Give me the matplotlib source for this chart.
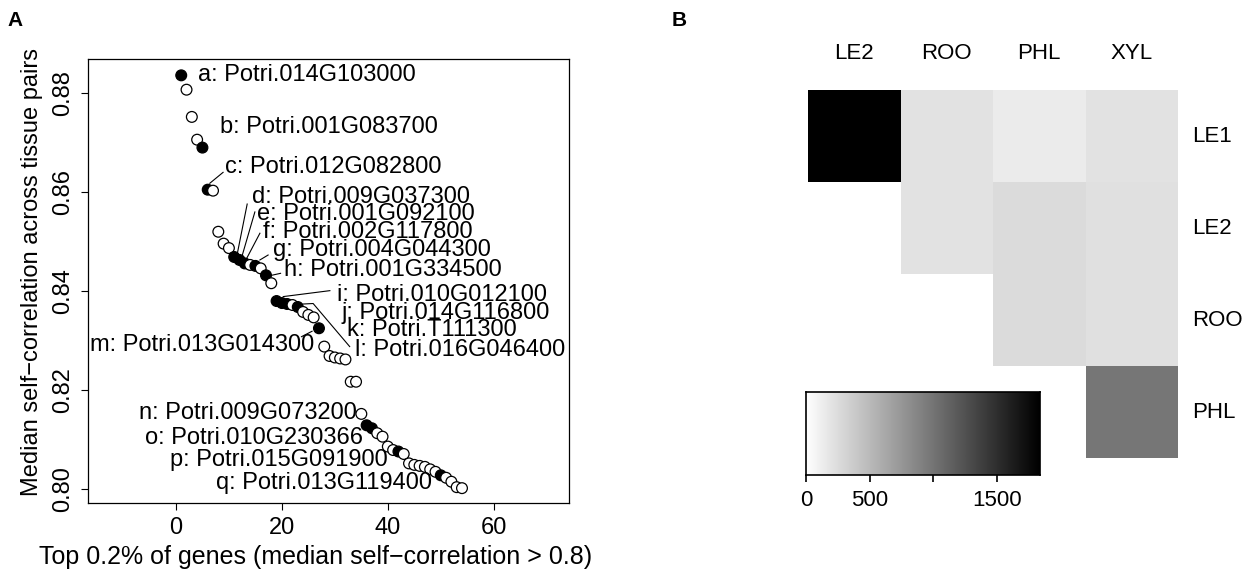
import numpy as np
import matplotlib
matplotlib.use("Agg")
import matplotlib.pyplot as plt
from matplotlib.colors import LinearSegmentedColormap

plt.rcParams['font.family'] = ['Liberation Sans', 'DejaVu Sans']

# ---------------- data: panel A ----------------
rank = list(range(1, 55))
self_corr = [0.8836, 0.8807, 0.8752, 0.8706, 0.8690, 0.8605, 0.8603, 0.8520, 0.8496, 0.8487,
             0.8469, 0.8463, 0.8456, 0.8453, 0.8451, 0.8446, 0.8432, 0.8416, 0.8380, 0.8376,
             0.8374, 0.8372, 0.8368, 0.8358, 0.8352, 0.8347, 0.8325, 0.8288, 0.8269, 0.8266,
             0.8264, 0.8262, 0.8217, 0.8217, 0.8152, 0.8129, 0.8123, 0.8113, 0.8106, 0.8086,
             0.8079, 0.8076, 0.8071, 0.8052, 0.8049, 0.8047, 0.8045, 0.8040, 0.8035, 0.8028,
             0.8023, 0.8015, 0.8004, 0.8002]
highlighted = [1, 5, 6, 11, 12, 13, 15, 17, 19, 20, 21, 23, 27, 36, 37, 42, 50]
gene_labels = ["a: Potri.014G103000", "b: Potri.001G083700", "c: Potri.012G082800",
               "d: Potri.009G037300", "e: Potri.001G092100", "f: Potri.002G117800",
               "g: Potri.004G044300", "h: Potri.001G334500", "i: Potri.010G012100",
               "j: Potri.014G116800", "k: Potri.T111300", "l: Potri.016G046400",
               "m: Potri.013G014300", "n: Potri.009G073200", "o: Potri.010G230366",
               "p: Potri.015G091900", "q: Potri.013G119400"]
# label anchor (data coords) and alignment
label_pos = [(4.15, 0.8836, 'left'), (8.3, 0.8731, 'left'), (9.25, 0.8651, 'left'),
             (14.3, 0.8590, 'left'), (15.3, 0.8556, 'left'), (16.4, 0.8519, 'left'),
             (18.3, 0.8483, 'left'), (20.4, 0.8442, 'left'), (30.4, 0.8392, 'left'),
             (31.3, 0.8356, 'left'), (32.3, 0.8321, 'left'), (33.8, 0.8281, 'left'),
             (26.2, 0.8291, 'right'), (34.2, 0.8154, 'right'), (35.3, 0.8103, 'right'),
             (40.0, 0.8059, 'right'), (48.3, 0.8012, 'right')]
leader_lines = [
    [(6.4, 0.8618), (8.9, 0.8640)],
    [(11.57, 0.8475), (13.45, 0.8576)],
    [(12.4, 0.8468), (14.9, 0.8560)],
    [(13.0, 0.8459), (15.85, 0.8517)],
    [(15.85, 0.8463), (17.4, 0.8473)],
    [(18.06, 0.8432), (19.75, 0.8436)],
    [(20.25, 0.8389), (29.06, 0.8401)],
    [(24.0, 0.8374), (25.9, 0.8375), (32.8, 0.8288)],
    [(23.7, 0.8308), (25.7, 0.8319)],
]
x_ticks = [0, 20, 40, 60]
y_ticks = [0.80, 0.82, 0.84, 0.86, 0.88]

# ---------------- data: panel B ----------------
col_tissues = ["LE2", "ROO", "PHL", "XYL"]
row_tissues = ["LE1", "LE2", "ROO", "PHL"]
overlap = [[1840, 210, 145, 210],
           [np.nan, 210, 265, 225],
           [np.nan, np.nan, 265, 225],
           [np.nan, np.nan, np.nan, 990]]
cbar_ticks = [0, 500, 1000, 1500]
cbar_ticklabels = ["0", "500", "", "1500"]
cbar_max = 1840

W, H = 1257, 579
fig = plt.figure(figsize=(W / 100, H / 100), dpi=100)

def px_axes(x0, y0, x1, y1):
    return fig.add_axes([x0 / W, 1 - y1 / H, (x1 - x0) / W, (y1 - y0) / H])

# ---------------- panel A ----------------
ax = px_axes(88, 59, 569, 503)
face = ['black' if r in highlighted else 'white' for r in rank]
ax.scatter(rank, self_corr, s=60, facecolors=face, edgecolors='black', linewidths=0.9, zorder=3)
for seg in leader_lines:
    xs, ys = zip(*seg)
    ax.plot(xs, ys, color='black', lw=0.8, zorder=2)
for lab, (lx, ly, ha) in zip(gene_labels, label_pos):
    ax.text(lx, ly, lab, ha=ha, va='center', fontsize=17, zorder=4)
ax.set_xlim(-16.6, 74.2)
ax.set_ylim(0.7972, 0.8869)
ax.set_xticks(x_ticks)
ax.set_xticklabels([str(t) for t in x_ticks])
ax.set_yticks(y_ticks)
ax.set_yticklabels(["%.2f" % t for t in y_ticks], rotation=90, va='center')
ax.tick_params(direction='out', length=5, width=0.8, labelsize=17, pad=5)
for s in ax.spines.values():
    s.set_linewidth(0.9)
fig.text(316 / W, 1 - 557 / H, "Top 0.2% of genes (median self\u2212correlation > 0.8)",
         ha='center', va='center', fontsize=18)
fig.text(32 / W, 1 - 272 / H, "Median self\u2212correlation across tissue pairs",
         ha='center', va='center', rotation=90, fontsize=17)
fig.text(15 / W, 1 - 20 / H, "A", ha='center', va='center', fontsize=15, fontweight='bold')
fig.text(679 / W, 1 - 20 / H, "B", ha='center', va='center', fontsize=15, fontweight='bold')

# ---------------- panel B ----------------
cmap = LinearSegmentedColormap.from_list("wb", ["white", "black"])
axh = px_axes(808, 90, 1178, 458)
data = np.ma.masked_invalid(np.array(overlap, dtype=float))
axh.pcolormesh(np.arange(5), np.arange(5), data, cmap=cmap, vmin=0, vmax=cbar_max)
axh.set_xlim(0, 4)
axh.set_ylim(4, 0)
axh.axis('off')
for j, name in enumerate(col_tissues):
    axh.text(j + 0.5, -0.4, name, ha='center', va='center', fontsize=16)
for i, name in enumerate(row_tissues):
    axh.text(4.15, i + 0.5, name, ha='left', va='center', fontsize=16)

axc = px_axes(806, 392, 1040, 475)
grad = np.linspace(0, cbar_max, 256).reshape(1, -1)
axc.imshow(grad, cmap=cmap, vmin=0, vmax=cbar_max, aspect='auto',
           extent=[0, cbar_max, 0, 1])
axc.set_xlim(0, cbar_max)
axc.set_yticks([])
axc.set_xticks(cbar_ticks)
axc.set_xticklabels(cbar_ticklabels)
axc.tick_params(axis='x', direction='out', length=5, width=1.2, labelsize=16, pad=6)
for s in axc.spines.values():
    s.set_linewidth(1.2)

fig.savefig("out.png", dpi=100)
